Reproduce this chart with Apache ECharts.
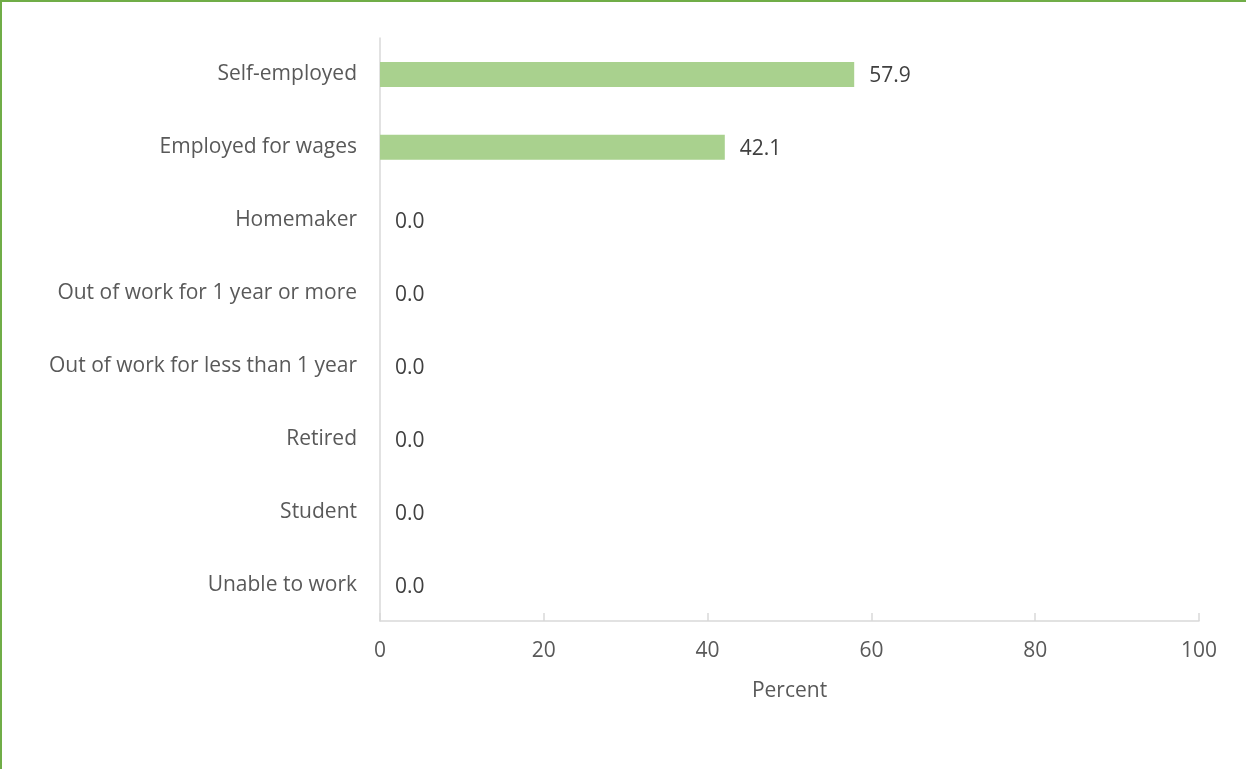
<!DOCTYPE html>
<html>
<head>
<meta charset="utf-8">
<script src="https://cdn.jsdelivr.net/npm/echarts@6/dist/echarts.min.js"></script>
<style>
html,body{margin:0;padding:0;background:#fff;}
#frame{position:absolute;left:0;top:0;width:1246px;height:769px;box-sizing:border-box;border-top:2px solid #70ad47;border-left:2px solid #70ad47;}
#chart{position:absolute;left:0;top:0;width:1246px;height:769px;}
</style>
</head>
<body>
<div id="frame"></div>
<div id="chart"></div>
<script>
const categories = ["Self-employed","Employed for wages","Homemaker","Out of work for 1 year or more","Out of work for less than 1 year","Retired","Student","Unable to work"];
const percentValues = [57.9, 42.1, 0.0, 0.0, 0.0, 0.0, 0.0, 0.0];
const xTicks = [0, 20, 40, 60, 80, 100];
const axisTitle = "Percent";

const FONT = "'Open Sans', sans-serif";
const chart = echarts.init(document.getElementById('chart'), null, {renderer:'canvas'});
chart.setOption({
  animation:false,
  grid:{left:380, right:47, top:38, bottom:148, containLabel:false},
  xAxis:{
    type:'value', min:xTicks[0], max:xTicks[xTicks.length-1], interval:20,
    name:axisTitle, nameLocation:'middle', nameGap:60,
    nameTextStyle:{color:'#595959', fontSize:21, fontFamily:FONT},
    axisLine:{show:true, lineStyle:{color:'#d9d9d9', width:1.5}},
    axisTick:{show:true, inside:true, length:8, lineStyle:{color:'#d9d9d9', width:1.5}},
    axisLabel:{color:'#595959', fontSize:21, fontFamily:FONT, margin:20},
    splitLine:{show:false}
  },
  yAxis:{
    type:'category', data:categories, inverse:true,
    axisLine:{show:true, lineStyle:{color:'#d9d9d9', width:1.5}},
    axisTick:{show:false},
    axisLabel:{color:'#595959', fontSize:21, fontFamily:FONT, margin:23, padding:[4,0,0,0]}
  },
  series:[{
    type:'bar', data:percentValues, barWidth:25,
    itemStyle:{color:'#a9d18e'},
    label:{show:true, position:'right', distance:15, offset:[0,2], color:'#404040', fontSize:21, fontFamily:FONT,
      formatter:p=>p.value.toFixed(1)}
  }]
});
</script>
</body>
</html>
